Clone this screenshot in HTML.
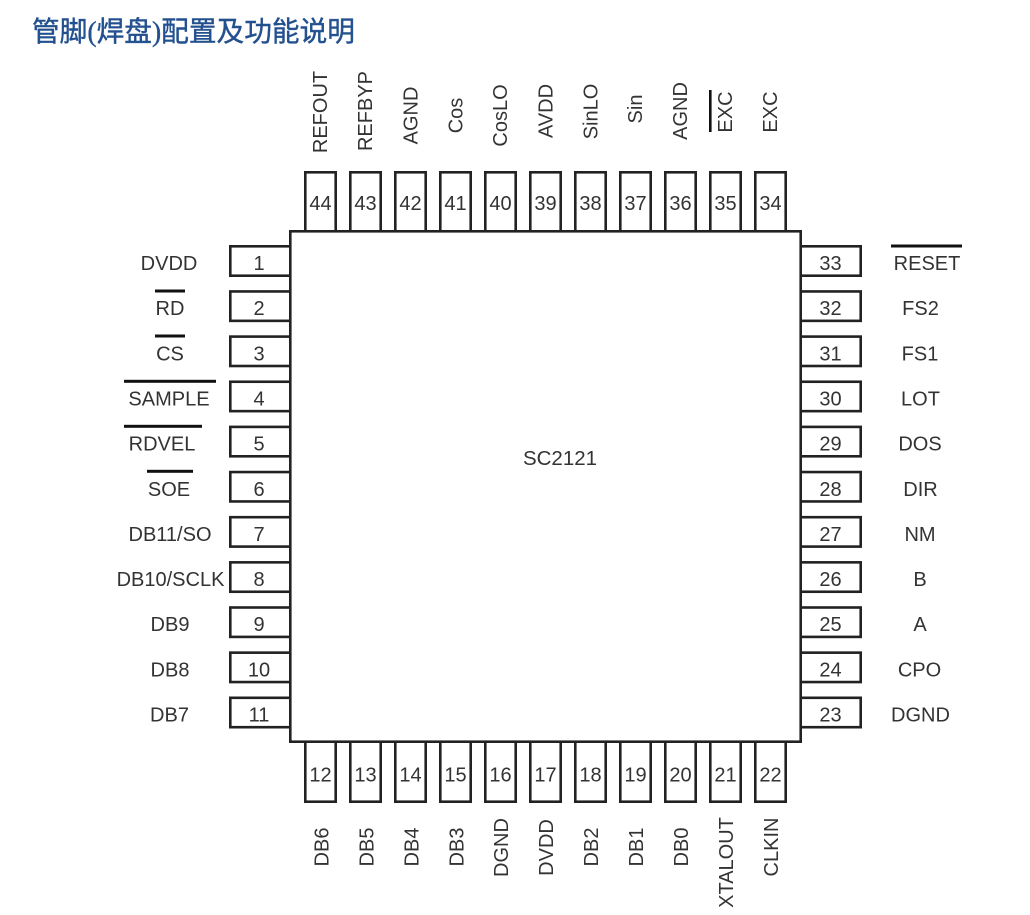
<!DOCTYPE html>
<html>
<head>
<meta charset="utf-8">
<style>
html,body{margin:0;padding:0;background:#fff;}
svg{display:block;}
.t{font-family:"Liberation Sans",Arial,sans-serif;font-size:20px;fill:#333;}
.n{font-family:"Liberation Sans",Arial,sans-serif;font-size:20px;fill:#333;text-anchor:middle;}
.m{text-anchor:middle;}
.p{fill:#fff;stroke:#222;stroke-width:2.6;}
</style>
</head>
<body>
<svg width="1030" height="915" viewBox="0 0 1030 915" xmlns="http://www.w3.org/2000/svg">
<rect x="0" y="0" width="1030" height="915" fill="#fff"/>
<text x="32" y="41" textLength="323" lengthAdjust="spacingAndGlyphs" style="font-family:'Liberation Serif','Noto Sans CJK SC',serif;font-size:28px;font-weight:normal;fill:#23508f;stroke:#23508f;stroke-width:0.4;">管脚(焊盘)配置及功能说明</text>

<!-- top pins -->
<g class="p">
<rect x="305.3" y="172.3" width="30.4" height="62"/>
<rect x="350.3" y="172.3" width="30.4" height="62"/>
<rect x="395.3" y="172.3" width="30.4" height="62"/>
<rect x="440.3" y="172.3" width="30.4" height="62"/>
<rect x="485.3" y="172.3" width="30.4" height="62"/>
<rect x="530.3" y="172.3" width="30.4" height="62"/>
<rect x="575.3" y="172.3" width="30.4" height="62"/>
<rect x="620.3" y="172.3" width="30.4" height="62"/>
<rect x="665.3" y="172.3" width="30.4" height="62"/>
<rect x="710.3" y="172.3" width="30.4" height="62"/>
<rect x="755.3" y="172.3" width="30.4" height="62"/>
<!-- bottom pins -->
<rect x="305.3" y="740" width="30.4" height="61.7"/>
<rect x="350.3" y="740" width="30.4" height="61.7"/>
<rect x="395.3" y="740" width="30.4" height="61.7"/>
<rect x="440.3" y="740" width="30.4" height="61.7"/>
<rect x="485.3" y="740" width="30.4" height="61.7"/>
<rect x="530.3" y="740" width="30.4" height="61.7"/>
<rect x="575.3" y="740" width="30.4" height="61.7"/>
<rect x="620.3" y="740" width="30.4" height="61.7"/>
<rect x="665.3" y="740" width="30.4" height="61.7"/>
<rect x="710.3" y="740" width="30.4" height="61.7"/>
<rect x="755.3" y="740" width="30.4" height="61.7"/>
<!-- left pins -->
<rect x="230.3" y="246.3" width="62" height="29.4"/>
<rect x="230.3" y="291.45" width="62" height="29.4"/>
<rect x="230.3" y="336.6" width="62" height="29.4"/>
<rect x="230.3" y="381.75" width="62" height="29.4"/>
<rect x="230.3" y="426.9" width="62" height="29.4"/>
<rect x="230.3" y="472.05" width="62" height="29.4"/>
<rect x="230.3" y="517.2" width="62" height="29.4"/>
<rect x="230.3" y="562.35" width="62" height="29.4"/>
<rect x="230.3" y="607.5" width="62" height="29.4"/>
<rect x="230.3" y="652.65" width="62" height="29.4"/>
<rect x="230.3" y="697.8" width="62" height="29.4"/>
<!-- right pins -->
<rect x="798" y="246.3" width="62.7" height="29.4"/>
<rect x="798" y="291.45" width="62.7" height="29.4"/>
<rect x="798" y="336.6" width="62.7" height="29.4"/>
<rect x="798" y="381.75" width="62.7" height="29.4"/>
<rect x="798" y="426.9" width="62.7" height="29.4"/>
<rect x="798" y="472.05" width="62.7" height="29.4"/>
<rect x="798" y="517.2" width="62.7" height="29.4"/>
<rect x="798" y="562.35" width="62.7" height="29.4"/>
<rect x="798" y="607.5" width="62.7" height="29.4"/>
<rect x="798" y="652.65" width="62.7" height="29.4"/>
<rect x="798" y="697.8" width="62.7" height="29.4"/>
<!-- body -->
<rect x="290.3" y="231.3" width="510.4" height="510.4"/>
</g>

<text class="n" x="560" y="465" style="font-size:20.5px">SC2121</text>

<!-- top numbers -->
<g class="n">
<text x="320.5" y="210">44</text>
<text x="365.5" y="210">43</text>
<text x="410.5" y="210">42</text>
<text x="455.5" y="210">41</text>
<text x="500.5" y="210">40</text>
<text x="545.5" y="210">39</text>
<text x="590.5" y="210">38</text>
<text x="635.5" y="210">37</text>
<text x="680.5" y="210">36</text>
<text x="725.5" y="210">35</text>
<text x="770.5" y="210">34</text>
</g>
<!-- bottom numbers -->
<g class="n">
<text x="320.5" y="781.5">12</text>
<text x="365.5" y="781.5">13</text>
<text x="410.5" y="781.5">14</text>
<text x="455.5" y="781.5">15</text>
<text x="500.5" y="781.5">16</text>
<text x="545.5" y="781.5">17</text>
<text x="590.5" y="781.5">18</text>
<text x="635.5" y="781.5">19</text>
<text x="680.5" y="781.5">20</text>
<text x="725.5" y="781.5">21</text>
<text x="770.5" y="781.5">22</text>
</g>
<!-- left numbers -->
<g class="n">
<text x="259" y="270">1</text>
<text x="259" y="315.15">2</text>
<text x="259" y="360.3">3</text>
<text x="259" y="405.45">4</text>
<text x="259" y="450.6">5</text>
<text x="259" y="495.75">6</text>
<text x="259" y="540.9">7</text>
<text x="259" y="586.05">8</text>
<text x="259" y="631.2">9</text>
<text x="259" y="676.35">10</text>
<text x="259" y="721.5">11</text>
</g>
<!-- right numbers -->
<g class="n">
<text x="830.5" y="270">33</text>
<text x="830.5" y="315.15">32</text>
<text x="830.5" y="360.3">31</text>
<text x="830.5" y="405.45">30</text>
<text x="830.5" y="450.6">29</text>
<text x="830.5" y="495.75">28</text>
<text x="830.5" y="540.9">27</text>
<text x="830.5" y="586.05">26</text>
<text x="830.5" y="631.2">25</text>
<text x="830.5" y="676.35">24</text>
<text x="830.5" y="721.5">23</text>
</g>

<!-- left labels -->
<g class="n">
<text x="169" y="270">DVDD</text>
<text x="170" y="315.15">RD</text>
<text x="170" y="360.3">CS</text>
<text x="169" y="405.45">SAMPLE</text>
<text x="162" y="450.6">RDVEL</text>
<text x="169" y="495.75">SOE</text>
<text x="170" y="540.9">DB11/SO</text>
<text x="170.5" y="586.05">DB10/SCLK</text>
<text x="170" y="631.2">DB9</text>
<text x="170" y="676.35">DB8</text>
<text x="169.5" y="721.5">DB7</text>
</g>
<!-- right labels -->
<g class="n">
<text x="927" y="270">RESET</text>
<text x="920.5" y="315.15">FS2</text>
<text x="920" y="360.3">FS1</text>
<text x="920.5" y="405.45">LOT</text>
<text x="920" y="450.6">DOS</text>
<text x="920.5" y="495.75">DIR</text>
<text x="920" y="540.9">NM</text>
<text x="920" y="586.05">B</text>
<text x="920" y="631.2">A</text>
<text x="919.5" y="676.35">CPO</text>
<text x="920.5" y="721.5">DGND</text>
</g>

<!-- overbars -->
<g fill="#111">
<rect x="155" y="289.5" width="30" height="3"/>
<rect x="155" y="334.5" width="30" height="3"/>
<rect x="124" y="379.8" width="92" height="3"/>
<rect x="124" y="424.8" width="78" height="3"/>
<rect x="147" y="469.8" width="46" height="3"/>
<rect x="891" y="244.5" width="71" height="3"/>
<rect x="709" y="90" width="2.6" height="42"/>
</g>

<!-- top labels (rotated) -->
<g class="n">
<text transform="translate(327,112) rotate(-90)">REFOUT</text>
<text transform="translate(372,111) rotate(-90)">REFBYP</text>
<text transform="translate(417.5,115.5) rotate(-90)">AGND</text>
<text transform="translate(462.5,115.5) rotate(-90)">Cos</text>
<text transform="translate(507,115.5) rotate(-90)">CosLO</text>
<text transform="translate(552.5,111) rotate(-90)">AVDD</text>
<text transform="translate(597.5,111.5) rotate(-90)">SinLO</text>
<text transform="translate(642,109) rotate(-90)">Sin</text>
<text transform="translate(687,111) rotate(-90)">AGND</text>
<text transform="translate(732,112) rotate(-90)">EXC</text>
<text transform="translate(777,112) rotate(-90)">EXC</text>
</g>
<!-- bottom labels (rotated) -->
<g class="n">
<text transform="translate(328.5,847) rotate(-90)">DB6</text>
<text transform="translate(373.5,847) rotate(-90)">DB5</text>
<text transform="translate(418.5,847) rotate(-90)">DB4</text>
<text transform="translate(463.5,847) rotate(-90)">DB3</text>
<text transform="translate(508,847.5) rotate(-90)">DGND</text>
<text transform="translate(553,847.5) rotate(-90)">DVDD</text>
<text transform="translate(598,847) rotate(-90)">DB2</text>
<text transform="translate(643,847) rotate(-90)">DB1</text>
<text transform="translate(688,847) rotate(-90)">DB0</text>
<text transform="translate(733,862.5) rotate(-90)">XTALOUT</text>
<text transform="translate(778,847) rotate(-90)">CLKIN</text>
</g>
</svg>
</body>
</html>
